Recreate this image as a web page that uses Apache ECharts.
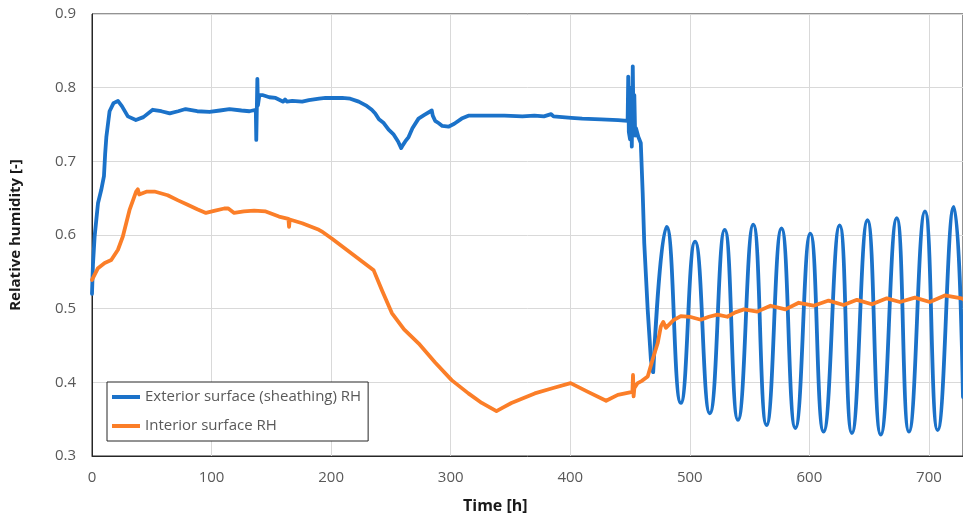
<!DOCTYPE html>
<html>
<head>
<meta charset="utf-8">
<script src="https://cdn.jsdelivr.net/npm/echarts@6/dist/echarts.min.js"></script>
<style>
html,body{margin:0;padding:0;background:#fff;}
#c{width:963px;height:520px;}
</style>
</head>
<body>
<div id="c"></div>
<script>
// ---- data ----
var seriesNames = ['Exterior surface (sheathing) RH', 'Interior surface RH'];
var xTickValues = [0, 100, 200, 300, 400, 500, 600, 700];
var yTickValues = [0.3, 0.4, 0.5, 0.6, 0.7, 0.8, 0.9];

// exterior RH, first part (steady period + drop)
var extTime = [0,0.8,2.2,5,7.7,10,11,12,14.7,18,21.7,25,30,36.7,43,50.8,58,65,72,78.3,88,98.3,107,115,125,131.7,137,137.4,138.3,138.8,140,142.5,148.3,153.6,160,161.5,163,167.5,175.8,181.4,190,195.3,200.8,209.2,216,223.1,229,234,236.9,240,244,248.1,252,256,258.6,260,262,264.8,268,273.1,278,284.2,285,287,289.8,293,298.1,303,309.2,314.8,330,345,360,370,378,384,386,400.8,402,410,425.8,440,448,448.5,449,450,450.8,451.5,452.3,453,453.6,454.3,455,457,459,460.6,461.9,464.8,467.5,469.4];
var extRH   = [0.520,0.560,0.598,0.643,0.661,0.680,0.710,0.733,0.768,0.779,0.782,0.775,0.761,0.756,0.760,0.770,0.768,0.765,0.768,0.771,0.768,0.767,0.769,0.771,0.769,0.768,0.770,0.729,0.812,0.776,0.790,0.790,0.787,0.786,0.781,0.784,0.781,0.782,0.781,0.783,0.785,0.786,0.786,0.786,0.785,0.781,0.776,0.770,0.765,0.757,0.752,0.743,0.737,0.727,0.718,0.722,0.727,0.733,0.745,0.758,0.763,0.769,0.762,0.755,0.752,0.748,0.747,0.751,0.758,0.762,0.762,0.762,0.761,0.762,0.761,0.764,0.761,0.759,0.757,0.758,0.757,0.756,0.755,0.815,0.740,0.730,0.800,0.720,0.829,0.740,0.790,0.735,0.745,0.733,0.725,0.657,0.589,0.498,0.430,0.414];

// exterior RH, daily cycles (peaks and troughs)
var extCycleTime = [469.4,480.6,492.5,504.4,516.7,529.2,540.3,553.1,564.2,576.7,588.3,600.8,611.9,625.3,635.6,648.6,659.7,673.1,683.3,696.7,707.3,720.8,728.5];
var extCycleRH   = [0.414,0.611,0.372,0.591,0.358,0.607,0.349,0.614,0.342,0.609,0.338,0.602,0.333,0.613,0.331,0.620,0.329,0.623,0.333,0.632,0.335,0.638,0.380];

// interior RH
var intTime = [0,1.1,5,10.6,16.1,21.7,25.8,31.4,36.9,38.3,39.5,41.1,46,52.3,63.3,72,80,88,95.3,103,110.6,114,118.9,127,135.6,145.3,156.4,164.3,164.8,165.4,166,175.8,189.8,192,200.8,235.6,242.5,250.8,261,273.1,287,300.8,314.8,326,338.3,344,350.8,360,370.3,385,400.3,414.8,430,439.8,452,452.5,453,453.6,456.4,460,464.8,468.9,473.1,475.8,477,477.8,480,486,492.5,500,509.2,516,523.1,531.4,538,545.3,556.4,567.5,580,591.1,603.6,616.1,628.6,639.8,652.3,664.8,675.8,688.3,700.8,713.3,727.3,728.5];
var intRH   = [0.539,0.540,0.555,0.562,0.566,0.580,0.598,0.634,0.659,0.662,0.655,0.657,0.659,0.659,0.654,0.647,0.641,0.635,0.630,0.633,0.636,0.636,0.630,0.632,0.633,0.632,0.625,0.622,0.611,0.621,0.622,0.616,0.607,0.605,0.595,0.552,0.525,0.494,0.472,0.453,0.427,0.403,0.385,0.372,0.361,0.366,0.372,0.378,0.385,0.392,0.399,0.387,0.375,0.383,0.387,0.410,0.381,0.392,0.399,0.402,0.408,0.431,0.453,0.476,0.475,0.482,0.474,0.484,0.490,0.489,0.485,0.489,0.492,0.489,0.495,0.499,0.496,0.504,0.499,0.508,0.504,0.511,0.505,0.512,0.506,0.514,0.509,0.515,0.509,0.518,0.514,0.513];

function zip(a, b) { return a.map(function (v, i) { return [v, b[i]]; }); }

var blue = '#1B72C9';
var orange = '#FB7E28';
var font = '"Open Sans", "Noto Sans", sans-serif';

var chart = echarts.init(document.getElementById('c'), null, {renderer: 'canvas'});
chart.setOption({
  animation: false,
  backgroundColor: '#ffffff',
  textStyle: {fontFamily: font},
  grid: {left: 89, top: 14, right: 0, bottom: 64, show: true, borderColor: '#262626', borderWidth: 1},
  xAxis: {
    type: 'value', min: 0, max: 728.5, interval: 100,
    axisLine: {show: true, lineStyle: {color: '#262626', width: 1}},
    axisTick: {show: false},
    splitLine: {show: true, lineStyle: {color: '#d9d9d9', width: 1}},
    axisLabel: {
      color: '#595959', fontSize: 15, fontFamily: font, margin: 14, showMaxLabel: false,
      formatter: function (v) { return xTickValues.indexOf(v) >= 0 ? String(v) : ''; }
    }
  },
  yAxis: {
    type: 'value', min: 0.3, max: 0.9, interval: 0.1,
    name: 'Relative humidity [-]', nameLocation: 'middle', nameGap: 69,
    nameTextStyle: {color: '#1a1a1a', fontSize: 15, fontWeight: 'bold', fontFamily: font},
    axisLine: {show: true, lineStyle: {color: '#262626', width: 1}},
    axisTick: {show: false},
    splitLine: {show: true, lineStyle: {color: '#d9d9d9', width: 1}},
    axisLabel: {
      color: '#595959', fontSize: 15, fontFamily: font, margin: 16,
      formatter: function (v) {
        for (var i = 0; i < yTickValues.length; i++) {
          if (Math.abs(yTickValues[i] - v) < 1e-6) return yTickValues[i].toFixed(1);
        }
        return '';
      }
    }
  },
  legend: {
    orient: 'vertical', left: 107, top: 382,
    data: seriesNames,
    icon: 'rect', itemWidth: 28, itemHeight: 4, itemGap: 11,
    padding: [6, 7, 6, 5],
    borderColor: '#262626', borderWidth: 1, backgroundColor: '#ffffff',
    textStyle: {color: '#595959', fontSize: 15, fontFamily: font, lineHeight: 18}
  },
  graphic: [{
    type: 'text', left: 463, top: 498,
    style: {text: 'Time [h]', fill: '#1a1a1a', font: 'bold 16px ' + font}
  }],
  series: [
    {
      name: seriesNames[0], type: 'line', data: zip(extTime, extRH),
      showSymbol: false, symbol: 'none', smooth: false, color: blue,
      lineStyle: {color: blue, width: 3.8, cap: 'round', join: 'round'}, z: 2
    },
    {
      name: seriesNames[0], type: 'line', data: zip(extCycleTime, extCycleRH),
      showSymbol: false, symbol: 'none', smooth: 0.5, color: blue,
      lineStyle: {color: blue, width: 3.8, cap: 'round', join: 'round'}, z: 2
    },
    {
      name: seriesNames[1], type: 'line', data: zip(intTime, intRH),
      showSymbol: false, symbol: 'none', smooth: false, color: orange,
      lineStyle: {color: orange, width: 3.8, cap: 'round', join: 'round'}, z: 3
    }
  ]
});
</script>
</body>
</html>
